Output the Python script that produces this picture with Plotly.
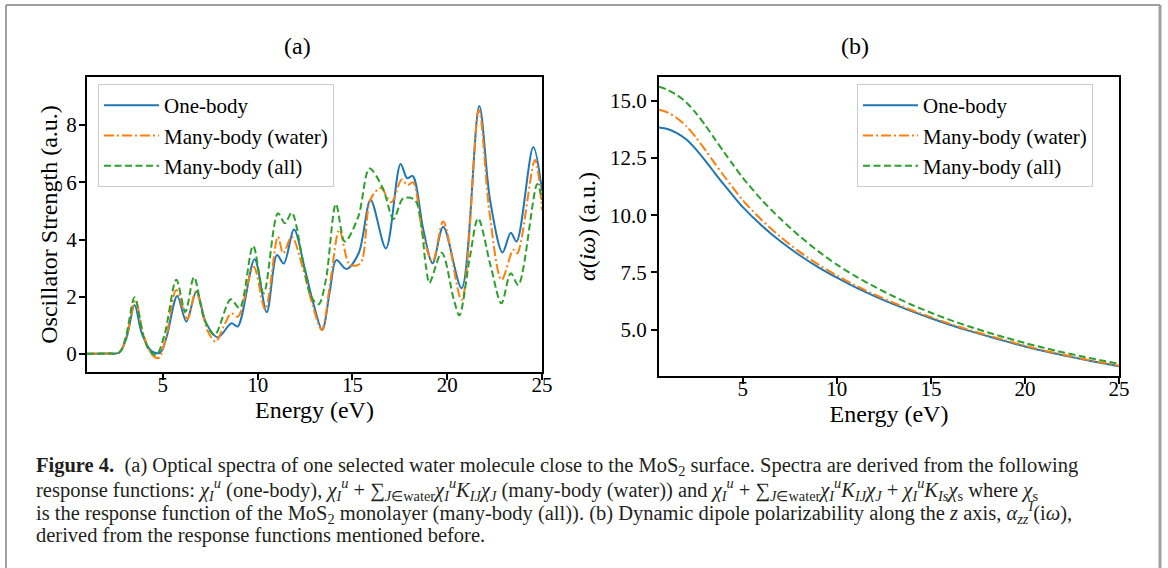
import plotly.graph_objects as go

# ---------------- data ----------------
# Panel (a): oscillator strength vs energy (eV)
one_x = [1.0, 2.0, 2.7, 3.1, 3.51, 3.9, 4.4, 4.85, 5.2, 5.76, 6.24, 6.77, 7.29, 7.9, 8.62, 8.95,
         9.84, 10.48, 11.02, 11.38, 11.92, 12.5, 12.94, 13.41, 13.82, 14.15, 14.68, 15.33, 15.96,
         16.77, 17.54, 17.89, 18.18, 18.74, 19.23, 19.79, 20.76, 21.69, 22.26, 22.92, 23.35,
         23.66, 24.54, 25.0]
one_y = [0.01, 0.02, 0.05, 0.6, 1.71, 0.7, 0.1, 0.04, 0.6, 2.03, 1.13, 2.18, 1.07, 0.58, 1.07, 0.96,
         3.31, 1.46, 3.46, 3.16, 4.35, 2.94, 1.77, 0.84, 2.24, 3.28, 2.97, 3.52, 5.38,
         3.69, 6.64, 6.14, 6.22, 4.34, 3.17, 4.45, 2.30, 8.67, 5.38, 3.55, 4.24,
         3.93, 7.23, 5.7]

water_x = [1.0, 2.0, 2.7, 3.1, 3.55, 3.95, 4.4, 4.77, 5.15, 5.71, 6.3, 6.74, 7.38, 7.79, 8.2, 8.61,
           8.96, 9.79, 10.4, 11.07, 11.35, 11.8, 12.41, 12.9, 13.38, 13.85, 14.31, 14.87, 15.42,
           15.95, 16.5, 17.05, 17.6, 17.9, 18.2, 18.7, 19.23, 19.79, 20.76, 21.67, 22.22, 22.87,
           23.49, 23.7, 24.63, 25.0]
water_y = [0.01, 0.02, 0.05, 0.65, 1.88, 0.75, 0.0, -0.14, 0.5, 2.24, 1.22, 2.18, 0.78, 0.43, 0.95, 1.42,
           1.30, 3.05, 1.55, 4.10, 3.52, 4.10, 2.94, 1.7, 0.84, 2.6, 4.34, 3.11, 3.17,
           5.4, 5.8, 5.3, 6.1, 5.9, 6.0, 4.2, 3.23, 4.63, 1.89, 8.53, 5.0, 2.59,
           3.64, 3.52, 6.78, 5.03]

all_x = [1.0, 2.0, 2.7, 3.05, 3.51, 3.95, 4.3, 4.66, 5.1, 5.71, 6.19, 6.64, 7.2, 7.73, 8.58, 9.05,
         9.76, 10.32, 11.07, 11.44, 11.8, 12.41, 12.82, 13.22, 13.6, 14.13, 14.6, 15.31, 15.9,
         16.6, 17.17, 17.68, 18.3, 18.88, 19.06, 19.71, 20.35, 20.64, 21.2, 21.63, 22.3, 22.86,
         23.35, 23.75, 24.75, 25.0]
all_y = [0.01, 0.02, 0.05, 0.6, 1.98, 0.7, 0.1, -0.03, 0.7, 2.59, 1.48, 2.68, 1.19, 0.66, 1.91, 1.60,
         3.78, 2.12, 4.92, 4.57, 4.94, 3.17, 2.0, 1.74, 2.59, 5.24, 3.93, 4.80, 6.48,
         5.8, 4.72, 5.44, 5.38, 3.05, 2.48, 3.54, 1.9, 1.35, 3.4, 4.74, 3.05, 1.77,
         2.82, 2.41, 5.94, 5.38]

# Panel (b): dynamic polarizability alpha(i omega) vs energy (eV)
pol_x = [0.544, 1, 1.5, 2, 2.5, 3, 3.5, 4, 4.5, 5, 6, 7, 8, 9, 10, 11, 12, 13, 14, 15,
         16, 17, 18, 19, 20, 21, 22, 23, 24, 25]
pol_one = [13.83, 13.76, 13.58, 13.30, 12.88, 12.38, 11.85, 11.33, 10.83, 10.35, 9.55, 8.86, 8.26,
           7.73, 7.27, 6.85, 6.47, 6.12, 5.80, 5.50, 5.22, 4.96, 4.72, 4.49, 4.27, 4.07, 3.89,
           3.72, 3.56, 3.41]
pol_water = [14.60, 14.48, 14.23, 13.88, 13.40, 12.85, 12.27, 11.71, 11.17, 10.65, 9.79, 9.05, 8.41,
             7.85, 7.37, 6.93, 6.54, 6.18, 5.85, 5.55, 5.26, 5.00, 4.76, 4.53, 4.30, 4.10, 3.92,
             3.74, 3.58, 3.43]
pol_all = [15.61, 15.47, 15.24, 14.92, 14.46, 13.93, 13.34, 12.75, 12.18, 11.63, 10.67, 9.84, 9.10,
           8.43, 7.84, 7.33, 6.88, 6.46, 6.08, 5.74, 5.43, 5.15, 4.89, 4.65, 4.42, 4.21, 4.02,
           3.84, 3.67, 3.51]

names = ["One-body", "Many-body (water)", "Many-body (all)"]
colors = ["#1f77b4", "#ff7f0e", "#2ca02c"]
dashes = ["solid", "10px,3px,2px,3px", "7px,3.5px"]

W, H = 1168, 568
def px(x):
    return x / W
def py(y):
    return (H - y) / H

fig = go.Figure()

series_a = [(one_x, one_y), (water_x, water_y), (all_x, all_y)]
for (xs, ys), n, c, d in zip(series_a, names, colors, dashes):
    fig.add_trace(go.Scatter(x=xs, y=ys, name=n, mode="lines",
                             line=dict(color=c, width=2, dash=d, shape="spline", smoothing=0.9),
                             xaxis="x", yaxis="y", legend="legend", legendgroup=n))

series_b = [pol_one, pol_water, pol_all]
for ys, n, c, d in zip(series_b, names, colors, dashes):
    fig.add_trace(go.Scatter(x=pol_x, y=ys, name=n, mode="lines",
                             line=dict(color=c, width=2, dash=d, shape="spline", smoothing=0.8),
                             xaxis="x2", yaxis="y2", legend="legend2", legendgroup=n + "b"))

serif = "Liberation Serif, Times New Roman, serif"
axis_common = dict(showline=True, linecolor="black", linewidth=2, mirror=True,
                   ticks="outside", ticklen=6, tickwidth=1.5, tickcolor="black",
                   showgrid=False, zeroline=False, automargin=False,
                   tickfont=dict(family=serif, size=21, color="black"))

fig.update_layout(
    template="none",
    width=W, height=H, autosize=False,
    margin=dict(l=0, r=0, t=0, b=0, pad=0, autoexpand=False),
    paper_bgcolor="white", plot_bgcolor="white",
    font=dict(family=serif, color="black"),
    xaxis=dict(domain=[px(87), px(542)], range=[1, 25], tickvals=[5, 10, 15, 20, 25],
               ticklabelstandoff=-13,
               title=dict(text="Energy (eV)", font=dict(size=24), standoff=4), anchor="y",
               **axis_common),
    yaxis=dict(domain=[py(372), py(77)], range=[-0.63, 9.68], tickvals=[0, 2, 4, 6, 8],
               ticklabelstandoff=-2,
               title=dict(text="Oscillator Strength (a.u.)", font=dict(size=24), standoff=2),
               anchor="x", **axis_common),
    xaxis2=dict(domain=[px(659), px(1119)], range=[0.544, 25], tickvals=[5, 10, 15, 20, 25],
                ticklabelstandoff=-13,
                title=dict(text="Energy (eV)", font=dict(size=24), standoff=4), anchor="y2",
                **axis_common),
    yaxis2=dict(domain=[py(376), py(77)], range=[2.98, 16.03], tickvals=[5, 7.5, 10, 12.5, 15],
                tickformat=".1f", ticklabelstandoff=0,
                title=dict(text="<i>α</i>(<i>iω</i>) (a.u.)", font=dict(size=24), standoff=8),
                anchor="x2", **axis_common),
    legend=dict(x=px(98), y=py(84), xanchor="left", yanchor="top",
                bgcolor="rgba(255,255,255,0.85)", bordercolor="#cccccc", borderwidth=1,
                font=dict(family=serif, size=21, color="black"), itemwidth=55,
                tracegroupgap=0),
    legend2=dict(x=px(857), y=py(84), xanchor="left", yanchor="top",
                 bgcolor="rgba(255,255,255,0.85)", bordercolor="#cccccc", borderwidth=1,
                 font=dict(family=serif, size=21, color="black"), itemwidth=55,
                 tracegroupgap=0),
    showlegend=True,
)

annotations = [
    dict(text="(a)", x=px(297), y=py(46), xref="paper", yref="paper", showarrow=False,
         xanchor="center", yanchor="middle", font=dict(family=serif, size=24, color="black")),
    dict(text="(b)", x=px(855), y=py(46), xref="paper", yref="paper", showarrow=False,
         xanchor="center", yanchor="middle", font=dict(family=serif, size=24, color="black")),
]

ci = "<i>χ</i><sub><i>I</i></sub><sup><i>u</i></sup>"
sumw = "∑<sub><i>J</i>∈water</sub>"
caption_lines = [
    "<b>Figure 4.</b>  (a) Optical spectra of one selected water molecule close to the MoS<sub>2</sub> surface. Spectra are derived from the following",
    "response functions: " + ci + " (one-body), " + ci + " + " + sumw + ci + "<i>K</i><sub><i>IJ</i></sub><i>χ</i><sub><i>J</i></sub> (many-body (water)) and "
    + ci + " + " + sumw + ci + "<i>K</i><sub><i>IJ</i></sub><i>χ</i><sub><i>J</i></sub> + " + ci + "<i>K</i><sub><i>Is</i></sub><i>χ</i><sub>s</sub> where <i>χ</i><sub>s</sub>",
    "is the response function of the MoS<sub>2</sub> monolayer (many-body (all)). (b) Dynamic dipole polarizability along the <i>z</i> axis, <i>α</i><sub><i>zz</i></sub><sup><i>I</i></sup>(i<i>ω</i>),",
    "derived from the response functions mentioned before.",
]
for i, t in enumerate(caption_lines):
    annotations.append(dict(text=t, x=px(34), y=py(466 + 23 * i), xref="paper", yref="paper",
                            xanchor="left", yanchor="middle", showarrow=False, align="left",
                            font=dict(family=serif, size=20.5, color="#231f20")))
fig.update_layout(annotations=annotations)

# outer frame of the figure page
fig.update_layout(shapes=[
    dict(type="line", xref="paper", yref="paper", x0=px(6), x1=px(6), y0=py(568), y1=py(5),
         line=dict(color="#a0a0a0", width=2)),
    dict(type="line", xref="paper", yref="paper", x0=px(6), x1=px(1160), y0=py(5), y1=py(5),
         line=dict(color="#a0a0a0", width=2)),
    dict(type="line", xref="paper", yref="paper", x0=px(1160), x1=px(1160), y0=py(5), y1=py(568),
         line=dict(color="#a0a0a0", width=3)),
])

post = ("document.documentElement.style.margin='0px';document.body.style.margin='0px';"
        "document.body.style.padding='0px';document.body.style.overflow='hidden';"
        "document.documentElement.style.overflow='hidden';"
        "var gd=document.getElementById('{plot_id}');gd.style.position='absolute';"
        "gd.style.left='0px';gd.style.top='0px';")
fig.write_html("out.html", config={"displayModeBar": False, "responsive": False},
               post_script=post)
